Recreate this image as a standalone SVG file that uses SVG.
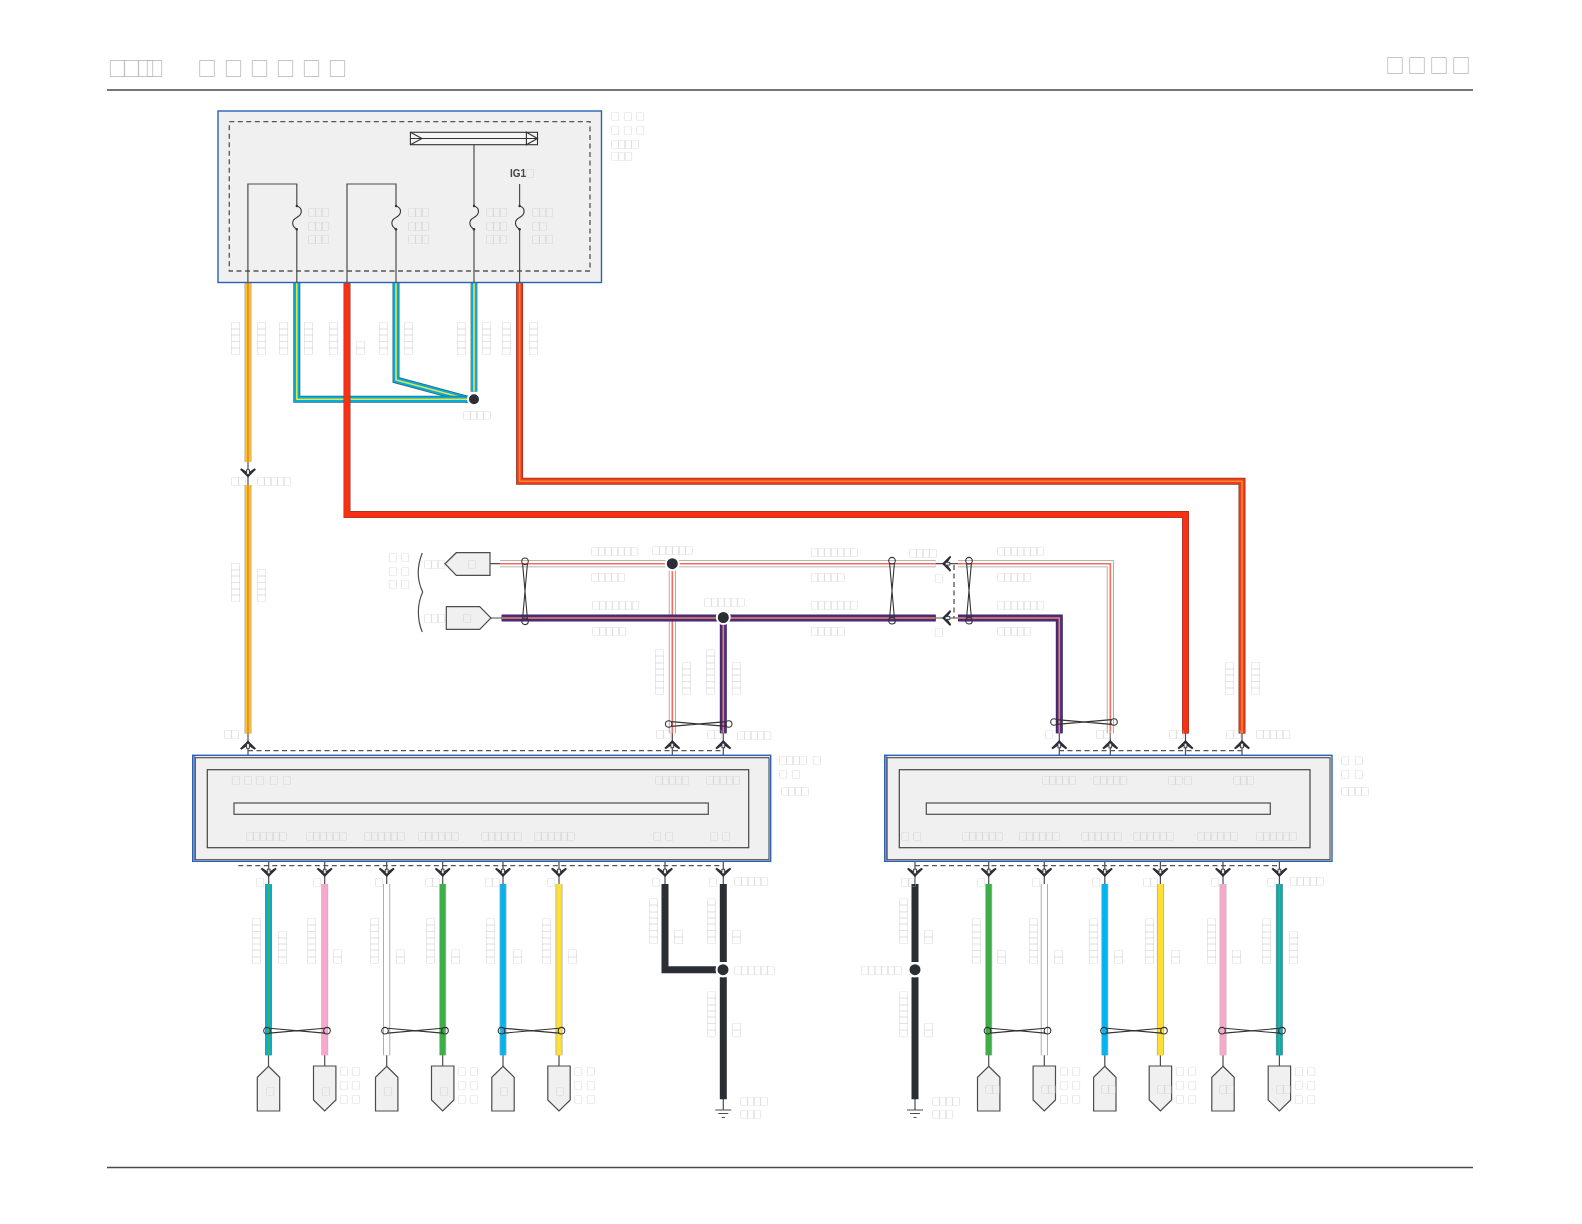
<svg xmlns="http://www.w3.org/2000/svg" width="1582" height="1224" viewBox="0 0 1582 1224">
<style>
text{font-family:"Noto Sans CJK SC","Liberation Sans",sans-serif;fill:#c6c6c6;filter:grayscale(1)}
.t{font-size:9.5px;letter-spacing:-3px}
.v{font-size:9.5px;letter-spacing:-3.2px}
.g{font-size:9.5px}
.h{font-size:19px;fill:#b4b4b4}
.ig{font-family:"Liberation Sans",sans-serif;font-size:10px;font-weight:bold;fill:#444}
.panel{fill:#eff0ef;stroke:#444;stroke-width:1.2}
.outer{fill:#eff0ef;stroke:#2a62b8;stroke-width:1.4}
.edge{fill:#6f90cc}
.frame{fill:none;stroke:#555;stroke-width:1.2}
.dash{fill:none;stroke:#555;stroke-width:1.3;stroke-dasharray:5 3.5}
.ln{fill:none;stroke:#4d4d4d;stroke-width:1.2}
.rule{fill:none;stroke:#4a4a4a;stroke-width:1.3}
.blk{fill:none;stroke:#333;stroke-width:1.1}
.pent{fill:#eff0ef;stroke:#4d4d4d;stroke-width:1.2}
.e,.f,.m{fill:none;stroke-linejoin:miter}
.e{stroke:#848484;stroke-width:7}
.f{stroke-width:5.4}
.m{stroke-width:1.6}
.bk{stroke:#2b2e35;stroke-width:7;fill:none}
.dot{fill:#2b2e35;stroke:#fff;stroke-width:2}
.tw{fill:none;stroke:#333;stroke-width:1.1}
#cn path{fill:#2b2e35}
#cn rect{fill:#e8e8e8;stroke:#2b2e35;stroke-width:.8}
</style>
<defs>
<g id="cn"><path d="M0,-5L8,3L6.6,4.2L1,.4H-1L-6.6,4.2L-8,3Z"/><rect x="-1.4" y="-1.8" width="2.8" height="4.6"/></g>
<g id="tw" class="tw"><circle cx="0" cy="0" r="3.3"/><circle cx="60" cy="0" r="3.3"/><path d="M2.5,-2.4L57.5,2.4M2.5,2.4L57.5,-2.4"/></g>
<path id="fuse" d="M0,0C6,2,6,8,0,11.5C-5.5,14,-5.5,20,0,23.3" fill="none" stroke="#333" stroke-width="1.1"/>
<path id="pu" class="pent" d="M0,0L11.2,11V44.7H-11.2V11Z"/>
<path id="pd" class="pent" d="M-11.2,0H11.2V34L0,45L-11.2,34Z"/>
</defs>

<g id="header">
<text class="h" x="108 122 136 145 197.6 224 250 276 302 328" y="76">□□□□□□□□□□</text>
<text class="h" x="1385.6 1407.6 1429.6 1451.6" y="73">□□□□</text>
<path class="rule" d="M107,90H1473M107,1167.5H1473"/>
</g>

<g id="connectors">
<!-- top harness wires -->
<path class="e" d="M248,282.5V462M248,485V733.5" style="stroke:#a8a8a8"/><path class="f" stroke="#f9c81e" d="M248,282.5V462M248,485V733.5"/><path class="m" stroke="#f2682a" style="stroke-width:1.2" d="M248,282.5V462M248,485V733.5"/>
<path class="e" d="M396,282.5V380L468,399.3" style="stroke:#2b6c85"/><path class="f" stroke="#00aee0" d="M396,282.5V380L468,399.3"/><path class="m" stroke="#f0e040" d="M396,282.5V380L468,399.3"/>
<path class="e" d="M296.8,282.5V399.3H468" style="stroke:#2b6c85"/><path class="f" stroke="#00aee0" d="M296.8,282.5V399.3H468"/><path class="m" stroke="#f0e040" d="M296.8,282.5V399.3H468"/>
<path class="e" d="M474,282.5V391.7"/><path class="f" stroke="#00aee0" d="M474,282.5V391.7"/><path class="m" stroke="#f0e040" d="M474,282.5V391.7"/>
<path class="e" d="M347,282.5V514.6H1185.5V733.5" style="stroke:#8a3a2a"/><path class="f" stroke="#fb2f14" style="stroke-width:5.8" d="M347,282.5V514.6H1185.5V733.5"/>
<path class="e" d="M519.6,282.5V481.3H1242V733.5" style="stroke:#8a3a2a"/><path class="f" stroke="#f33a1a" d="M519.6,282.5V481.3H1242V733.5"/><path class="m" stroke="#ff8a30" d="M519.6,282.5V481.3H1242V733.5"/>
<!-- signal pair upper -->
<path class="e" d="M500,563.7H935.7M958,563.7H1110.3V733.3M672.3,563.7V733.3" style="stroke:#9a9a9a"/><path class="f" stroke="#fff" d="M500,563.7H935.7M958,563.7H1110.3V733.3M672.3,563.7V733.3"/><path class="m" stroke="#ff6a5a" d="M500,563.7H935.7M958,563.7H1110.3V733.3M672.3,563.7V733.3"/>
<!-- signal pair lower -->
<path class="e" d="M501.7,618H935.7M958,618H1059.3V733.3M723.3,618V733.3" style="stroke:#3a2468"/><path class="f" stroke="#4b2a8c" d="M501.7,618H935.7M958,618H1059.3V733.3M723.3,618V733.3"/><path class="m" stroke="#ee8a3c" d="M501.7,618H935.7M958,618H1059.3V733.3M723.3,618V733.3"/>
<!-- stubs and panel lines -->
<path class="ln" d="M248,733.5V769.7M672.3,733.3V769.7M723.3,733.3V769.7M1059.3,733.3V769.7M1110.3,733.3V769.7M1185.5,733.3V769.7M1242,733.3V769.7M248,462V485M490,563.7H500M491,618H501.7M935.7,563.7H958M935.7,618H958"/>
<path class="ln" d="M268.7,847.7V884M324.7,847.7V884M386.7,847.7V884M442.7,847.7V884M503,847.7V884M559,847.7V884M665,847.7V884M723.3,847.7V884M915,847.7V884M988.7,847.7V884M1044.3,847.7V884M1104.8,847.7V884M1160.4,847.7V884M1223,847.7V884M1279.4,847.7V884"/>
<path class="ln" d="M268.5,1055V1066M324.7,1055V1066M386.7,1055V1066M442.7,1055V1066M503,1055V1066M559,1055V1066M988.7,1055V1066M1044.3,1055V1066M1104.8,1055V1066M1160.4,1055V1066M1223,1055V1066M1279.4,1055V1066M723.3,1099V1110M915,1099V1110"/>
<!-- bottom wires -->
<path class="e" d="M268.5,884V1055.3" style="stroke:#5d8a9b"/><path class="f" stroke="#00aee0" d="M268.5,884V1055.3"/><path class="m" stroke="#4cb050" d="M268.5,884V1055.3"/>
<path class="e" d="M324.7,884V1055.3" style="stroke:#bbb"/><path class="f" stroke="#f7a8cc" d="M324.7,884V1055.3"/>
<path class="e" d="M386.7,884V1055.3" style="stroke:#999"/><path class="f" stroke="#fff" d="M386.7,884V1055.3"/>
<path class="e" d="M442.7,884V1055.3" style="stroke:#aaa"/><path class="f" stroke="#3fae49" d="M442.7,884V1055.3"/>
<path class="e" d="M503,884V1055.3" style="stroke:#aaa"/><path class="f" stroke="#00b5f1" d="M503,884V1055.3"/>
<path class="e" d="M559,884V1055.3" style="stroke:#aaa"/><path class="f" stroke="#ffe033" d="M559,884V1055.3"/>
<path class="e" d="M988.7,884V1055.3" style="stroke:#aaa"/><path class="f" stroke="#3fae49" d="M988.7,884V1055.3"/>
<path class="e" d="M1044.3,884V1055.3" style="stroke:#999"/><path class="f" stroke="#fff" d="M1044.3,884V1055.3"/>
<path class="e" d="M1104.8,884V1055.3" style="stroke:#aaa"/><path class="f" stroke="#00b5f1" d="M1104.8,884V1055.3"/>
<path class="e" d="M1160.4,884V1055.3" style="stroke:#aaa"/><path class="f" stroke="#ffe033" d="M1160.4,884V1055.3"/>
<path class="e" d="M1223,884V1055.3" style="stroke:#bbb"/><path class="f" stroke="#f7a8cc" d="M1223,884V1055.3"/>
<path class="e" d="M1279.4,884V1055.3" style="stroke:#5d8a9b"/><path class="f" stroke="#00aec4" d="M1279.4,884V1055.3"/><path class="m" stroke="#4cb050" d="M1279.4,884V1055.3"/>
<path class="bk" d="M723.3,884V962M723.3,977.3V1099.3M915,884V962M915,977.3V1099.3M665,884V969.7H716"/>
<!-- junctions -->
<circle class="dot" cx="474" cy="399.3" r="6"/>
<circle class="dot" cx="672.3" cy="563.7" r="6.5"/>
<circle class="dot" cx="723.3" cy="617.5" r="6.5"/>
<circle class="dot" cx="723" cy="969.7" r="6.5"/>
<circle class="dot" cx="915" cy="969.7" r="6.5"/>
<!-- twists -->
<use href="#tw" transform="translate(525,561.3) rotate(90)"/>
<use href="#tw" transform="translate(892,560.7) rotate(90)"/>
<use href="#tw" transform="translate(969,560.7) rotate(90)"/>
<use href="#tw" transform="translate(668.7,724)"/>
<use href="#tw" transform="translate(1054,722)"/>
<use href="#tw" x="267" y="1030.7"/><use href="#tw" x="385" y="1030.7"/><use href="#tw" x="501.5" y="1030.7"/>
<use href="#tw" x="987.5" y="1030.7"/><use href="#tw" x="1104" y="1030.7"/><use href="#tw" x="1222" y="1030.7"/>
<!-- dashed links -->
<path class="dash" d="M248,750.7H723M238.3,865.7H723.3M1059,750.7H1242M915,865.7H1279M954,565V618"/>
<!-- connector symbols -->
<use href="#cn" x="248" y="745.5"/><use href="#cn" x="672.3" y="745"/><use href="#cn" x="723.3" y="745"/>
<use href="#cn" x="1059.3" y="745"/><use href="#cn" x="1110.3" y="745"/><use href="#cn" x="1185.5" y="745"/><use href="#cn" x="1242" y="745"/>
<use href="#cn" transform="translate(248,472.5) rotate(180)"/>
<use href="#cn" transform="translate(947,563.7) rotate(-90)"/>
<use href="#cn" transform="translate(947,618) rotate(-90)"/>
<use href="#cn" transform="translate(268.7,872) rotate(180)"/><use href="#cn" transform="translate(324.7,872) rotate(180)"/><use href="#cn" transform="translate(386.7,872) rotate(180)"/><use href="#cn" transform="translate(442.7,872) rotate(180)"/><use href="#cn" transform="translate(503,872) rotate(180)"/><use href="#cn" transform="translate(559,872) rotate(180)"/><use href="#cn" transform="translate(665,872) rotate(180)"/><use href="#cn" transform="translate(723.3,872) rotate(180)"/>
<use href="#cn" transform="translate(915,872) rotate(180)"/><use href="#cn" transform="translate(988.7,872) rotate(180)"/><use href="#cn" transform="translate(1044.3,872) rotate(180)"/><use href="#cn" transform="translate(1104.8,872) rotate(180)"/><use href="#cn" transform="translate(1160.4,872) rotate(180)"/><use href="#cn" transform="translate(1223,872) rotate(180)"/><use href="#cn" transform="translate(1279.4,872) rotate(180)"/>
</g>

<g id="fuse-box">
<rect class="outer" x="218" y="111" width="383.5" height="171.5"/>
<rect class="dash" x="229.3" y="121.7" width="360.7" height="149.3"/>
<path class="ln" d="M474,144.7V206M474,229.3V282.5M519.6,184V206M519.6,229.3V282.5M247.9,282.5V184H296.8V206M296.8,229.3V282.5M347,282.5V184H396V206M396,229.3V282.5"/>
<use href="#fuse" x="296.8" y="206"/><use href="#fuse" x="396" y="206"/><use href="#fuse" x="474" y="206"/><use href="#fuse" x="519.6" y="206"/>
<g fill="#333"><circle cx="296.8" cy="206" r="1.2"/><circle cx="296.8" cy="229.3" r="1.2"/><circle cx="396" cy="206" r="1.2"/><circle cx="396" cy="229.3" r="1.2"/><circle cx="474" cy="206" r="1.2"/><circle cx="474" cy="229.3" r="1.2"/><circle cx="519.6" cy="206" r="1.2"/><circle cx="519.6" cy="229.3" r="1.2"/></g>
<rect x="410.4" y="132.3" width="127.1" height="12.4" fill="#f6f6f6" stroke="#333" stroke-width="1.1"/>
<path class="blk" d="M410.4,138.5H537.5M410.4,132.3L422,138.5L410.4,144.7M526.4,132.3V144.7L537.5,138.5Z"/>
<text class="ig" x="510" y="177">IG1</text><text class="t" x="525.5" y="177">□</text>
<text class="t" x="307.5" y="216">□□□</text><text class="t" x="307.5" y="230">□□□</text><text class="t" x="307.5" y="243">□□□</text>
<text class="t" x="407.5" y="216">□□□</text><text class="t" x="407.5" y="230">□□□</text><text class="t" x="407.5" y="243">□□□</text>
<text class="t" x="485.5" y="216">□□□</text><text class="t" x="485.5" y="230">□□□</text><text class="t" x="485.5" y="243">□□□</text>
<text class="t" x="531.5" y="216">□□□</text><text class="t" x="531.5" y="230">□□</text><text class="t" x="531.5" y="243">□□□</text>
<text class="g" x="610.5 623 635.5" y="120">□□□</text><text class="g" x="610.5 623 635.5" y="134">□□□</text>
<text class="t" x="610.5" y="147.5">□□□□</text><text class="t" x="610.5" y="160">□□□</text>
</g>

<g id="wire-labels">
<text class="v" transform="translate(238.6,355.7) rotate(-90)">□□□□□</text>
<text class="v" transform="translate(264.7,355.7) rotate(-90)">□□□□□</text>
<text class="v" transform="translate(287,355.7) rotate(-90)">□□□□□</text>
<text class="v" transform="translate(312,355.7) rotate(-90)">□□□□□</text>
<text class="v" transform="translate(337,355.7) rotate(-90)">□□□□□</text>
<text class="v" transform="translate(363.6,355.7) rotate(-90)">□□</text>
<text class="v" transform="translate(386.5,355.7) rotate(-90)">□□□□□</text>
<text class="v" transform="translate(412,355.7) rotate(-90)">□□□□□</text>
<text class="v" transform="translate(464.7,355.7) rotate(-90)">□□□□□</text>
<text class="v" transform="translate(490.4,355.7) rotate(-90)">□□□□□</text>
<text class="v" transform="translate(510.4,355.7) rotate(-90)">□□□□□</text>
<text class="v" transform="translate(536.5,355.7) rotate(-90)">□□□□□</text>
<text class="t" x="462.5" y="418.5">□□□□</text>
<text class="t" x="230.5" y="485">□□</text><text class="t" x="256.5" y="485">□□□□□</text>
<text class="v" transform="translate(239,603) rotate(-90)">□□□□□□</text>
<text class="v" transform="translate(265,603) rotate(-90)">□□□□□</text>
<text class="t" x="223.5" y="738">□□</text>
<!-- middle -->
<text class="g" x="388 400.5" y="561">□□</text><text class="g" x="388 400.5" y="575">□□</text><text class="g" x="388 400.5" y="588">□□</text>
<text class="t" x="423.5" y="568">□□□</text><text class="t" x="423.5" y="622">□□□</text>
<text class="t" x="590.5" y="555">□□□□□□□</text><text class="t" x="590.5" y="581">□□□□□</text>
<text class="t" x="651.5" y="554">□□□□□□</text>
<text class="t" x="591.5" y="609">□□□□□□□</text><text class="t" x="591.5" y="635">□□□□□</text>
<text class="t" x="703.5" y="606">□□□□□□</text>
<text class="t" x="810" y="555.5">□□□□□□□</text><text class="t" x="810" y="581">□□□□□</text>
<text class="t" x="810" y="609">□□□□□□□</text><text class="t" x="810" y="635">□□□□□</text>
<text class="t" x="908.5" y="557">□□□□</text>
<text class="t" x="934" y="582">□</text><text class="t" x="934" y="636">□</text>
<text class="t" x="996.5" y="555">□□□□□□□</text><text class="t" x="996.5" y="581">□□□□□</text>
<text class="t" x="996.5" y="609">□□□□□□□</text><text class="t" x="996.5" y="635">□□□□□</text>
<text class="v" transform="translate(663.3,695.7) rotate(-90)">□□□□□□□</text>
<text class="v" transform="translate(689.7,695.7) rotate(-90)">□□□□□</text>
<text class="v" transform="translate(714.3,695.7) rotate(-90)">□□□□□□□</text>
<text class="v" transform="translate(740.3,695.7) rotate(-90)">□□□□□</text>
<text class="v" transform="translate(1233.3,695.7) rotate(-90)">□□□□□</text>
<text class="v" transform="translate(1259.3,695.7) rotate(-90)">□□□□□</text>
<text class="t" x="655.5" y="738">□□</text><text class="t" x="706.5" y="738">□□</text><text class="t" x="736.5" y="739">□□□□□</text>
<text class="t" x="1044.5" y="738">□</text><text class="t" x="1095.5" y="738">□□</text><text class="t" x="1168.5" y="738">□□</text><text class="t" x="1225.5" y="738">□□</text><text class="t" x="1255.5" y="738">□□□□□</text>
<!-- bottom vertical -->
<text class="v" transform="translate(260,964.6) rotate(-90)">□□□□□□□</text>
<text class="v" transform="translate(285.5,964.6) rotate(-90)">□□□□□</text>
<text class="v" transform="translate(315,964.6) rotate(-90)">□□□□□□□</text>
<text class="v" transform="translate(341,964.6) rotate(-90)">□□</text>
<text class="v" transform="translate(378.4,964.6) rotate(-90)">□□□□□□□</text>
<text class="v" transform="translate(403.5,964.6) rotate(-90)">□□</text>
<text class="v" transform="translate(434,964.6) rotate(-90)">□□□□□□□</text>
<text class="v" transform="translate(459,964.6) rotate(-90)">□□</text>
<text class="v" transform="translate(494,964.6) rotate(-90)">□□□□□□□</text>
<text class="v" transform="translate(520.6,964.6) rotate(-90)">□□</text>
<text class="v" transform="translate(550,964.6) rotate(-90)">□□□□□□□</text>
<text class="v" transform="translate(576,964.6) rotate(-90)">□□</text>
<text class="v" transform="translate(656.7,944.7) rotate(-90)">□□□□□□□</text>
<text class="v" transform="translate(682.3,944.7) rotate(-90)">□□</text>
<text class="v" transform="translate(714.7,944.7) rotate(-90)">□□□□□□□</text>
<text class="v" transform="translate(740.3,944.7) rotate(-90)">□□</text>
<text class="v" transform="translate(714.7,1037.7) rotate(-90)">□□□□□□□</text>
<text class="v" transform="translate(740.3,1037.7) rotate(-90)">□□</text>
<text class="v" transform="translate(906.7,944.7) rotate(-90)">□□□□□□□</text>
<text class="v" transform="translate(932.3,944.7) rotate(-90)">□□</text>
<text class="v" transform="translate(906.7,1037.7) rotate(-90)">□□□□□□□</text>
<text class="v" transform="translate(932.3,1037.7) rotate(-90)">□□</text>
<text class="v" transform="translate(980.3,964.7) rotate(-90)">□□□□□□□</text>
<text class="v" transform="translate(1005,964.7) rotate(-90)">□□</text>
<text class="v" transform="translate(1037,964.7) rotate(-90)">□□□□□□□</text>
<text class="v" transform="translate(1061.5,964.7) rotate(-90)">□□</text>
<text class="v" transform="translate(1096.7,964.7) rotate(-90)">□□□□□□□</text>
<text class="v" transform="translate(1122,964.7) rotate(-90)">□□</text>
<text class="v" transform="translate(1153,964.7) rotate(-90)">□□□□□□□</text>
<text class="v" transform="translate(1178.5,964.7) rotate(-90)">□□</text>
<text class="v" transform="translate(1215,964.7) rotate(-90)">□□□□□□□</text>
<text class="v" transform="translate(1240,964.7) rotate(-90)">□□</text>
<text class="v" transform="translate(1270,964.7) rotate(-90)">□□□□□□□</text>
<text class="v" transform="translate(1296.6,964.7) rotate(-90)">□□□□□</text>
<!-- connector labels below -->
<text class="t" x="255.5" y="886">□</text><text class="t" x="312.5" y="886">□</text><text class="t" x="374.5" y="886">□</text><text class="t" x="424.5" y="886">□□</text><text class="t" x="484.5" y="886">□□</text><text class="t" x="546.5" y="886">□</text><text class="t" x="651.5" y="886">□</text><text class="t" x="708.5" y="886">□</text><text class="t" x="733.5" y="885">□□□□□</text>
<text class="t" x="900.5" y="886">□□</text><text class="t" x="976.5" y="886">□</text><text class="t" x="1031.5" y="886">□</text><text class="t" x="1091.5" y="886">□</text><text class="t" x="1142.5" y="886">□□</text><text class="t" x="1210.5" y="886">□</text><text class="t" x="1266.5" y="886">□</text><text class="t" x="1289" y="885">□□□□□</text>
<text class="t" x="733.5" y="974">□□□□□□</text><text class="t" x="860.5" y="974">□□□□□□</text>
<text class="t" x="739.5" y="1105">□□□□</text><text class="t" x="739.5" y="1118">□□□</text>
<text class="t" x="931.5" y="1105">□□□□</text><text class="t" x="931.5" y="1118">□□□</text>
</g>

<g id="connector-a">
<path class="pent" d="M445,563.7L456.3,552.7H490V575.3H456.3Z"/>
<text class="g" x="467" y="568">□</text>
<path class="pent" d="M446.3,606.7H479.7L491,618L479.7,629.3H446.3Z"/>
<text class="g" x="462.5" y="622">□</text>
<path class="ln" d="M422.3,553C417,566 417,580 422.7,592C417,604 417,620 422.3,632"/>
</g>

<g id="module-left">
<rect class="outer" x="192.7" y="755.3" width="578" height="106"/>
<rect class="edge" x="193" y="756" width="2.4" height="105"/>
<rect class="frame" x="195.3" y="757.7" width="573.7" height="102"/>
<rect class="panel" x="207.3" y="769.7" width="541.4" height="78"/>
<rect x="234" y="803" width="474.3" height="11.3" fill="#f1f2f1" stroke="#4d4d4d" stroke-width="1.2"/>
<text class="g" x="231 243 255 269 282" y="784">□□□□□</text>
<text class="t" x="654.5" y="784">□□□□□</text><text class="t" x="705.5" y="784">□□□□□</text>
<text class="t" x="245.5" y="839.5">□□□□□□</text><text class="t" x="305.5" y="839.5">□□□□□□</text><text class="t" x="363.5" y="839.5">□□□□□□</text><text class="t" x="417.5" y="839.5">□□□□□□</text><text class="t" x="480.5" y="839.5">□□□□□□</text><text class="t" x="533.5" y="839.5">□□□□□□</text>
<text class="g" x="652.5 664.5" y="839.5">□□</text><text class="g" x="709.5 721.5" y="839.5">□□</text>
<text class="t" x="778.5" y="764">□□□□</text><text class="g" x="812" y="764">□</text><text class="g" x="778.5 791" y="778">□□</text><text class="t" x="780.5" y="795">□□□□</text>
</g>

<g id="module-right">
<rect class="outer" x="884.7" y="755.3" width="447.3" height="106"/>
<rect class="edge" x="885" y="756" width="2.4" height="105"/>
<rect class="frame" x="887" y="757.7" width="443" height="102"/>
<rect class="panel" x="899.3" y="769.7" width="410.7" height="78"/>
<rect x="926.3" y="803" width="344" height="11.3" fill="#f1f2f1" stroke="#4d4d4d" stroke-width="1.2"/>
<text class="t" x="1041.5" y="784">□□□□□</text><text class="t" x="1092.5" y="784">□□□□□</text><text class="t" x="1167.5" y="784">□□</text><text class="g" x="1183" y="784">□</text><text class="t" x="1232.5" y="784">□□□</text>
<text class="g" x="900.5 912.5" y="839.5">□□</text>
<text class="t" x="961.5" y="839.5">□□□□□□</text><text class="t" x="1018.5" y="839.5">□□□□□□</text><text class="t" x="1080.5" y="839.5">□□□□□□</text><text class="t" x="1132.5" y="839.5">□□□□□□</text><text class="t" x="1196.5" y="839.5">□□□□□□</text><text class="t" x="1255.5" y="839.5">□□□□□□</text>
<text class="g" x="1340.5 1354" y="764">□□</text><text class="g" x="1340.5 1354" y="778">□□</text><text class="t" x="1340.5" y="795">□□□□</text>
</g>

<g id="bottom-connectors">
<use href="#pu" x="268.5" y="1066.3"/><use href="#pd" x="324.7" y="1066"/><use href="#pu" x="386.7" y="1066.3"/><use href="#pd" x="442.7" y="1066"/><use href="#pu" x="503" y="1066.3"/><use href="#pd" x="559" y="1066"/>
<use href="#pu" x="988.7" y="1066.3"/><use href="#pd" x="1044.3" y="1066"/><use href="#pu" x="1104.8" y="1066.3"/><use href="#pd" x="1160.4" y="1066"/><use href="#pu" x="1223" y="1066.3"/><use href="#pd" x="1279.4" y="1066"/>
<text class="g" x="265.5 321 383 439 499.5 555" y="1094.5">□□□□□□</text>
<text class="t" x="984.5" y="1093">□□</text><text class="t" x="1040.5" y="1093">□□</text><text class="t" x="1100.5" y="1093">□□</text><text class="t" x="1156.5" y="1093">□□</text><text class="t" x="1218.5" y="1093">□□</text><text class="t" x="1275.5" y="1093">□□</text>
<g id="side-labels">
<text class="g" x="339 351 339 351 339 351" y="1075 1075 1089 1089 1102.5 1102.5">□□□□□□</text>
<text class="g" x="457 469 457 469 457 469" y="1075 1075 1089 1089 1102.5 1102.5">□□□□□□</text>
<text class="g" x="573.6 586 573.6 586 573.6 586" y="1075 1075 1089 1089 1102.5 1102.5">□□□□□□</text>
<text class="g" x="1059 1071.5 1059 1071.5 1059 1071.5" y="1075 1075 1089 1089 1102.5 1102.5">□□□□□□</text>
<text class="g" x="1175 1187.5 1175 1187.5 1175 1187.5" y="1075 1075 1089 1089 1102.5 1102.5">□□□□□□</text>
<text class="g" x="1294 1306.5 1294 1306.5 1294 1306.5" y="1075 1075 1089 1089 1102.5 1102.5">□□□□□□</text>
</g>
</g>

<g id="grounds">
<path class="ln" d="M715.3,1110H731.3M718.3,1113.5H728.3M721.8,1117.5H724.8M907,1110H923M910,1113.5H920M913.5,1117.5H916.5"/>
</g>
</svg>
